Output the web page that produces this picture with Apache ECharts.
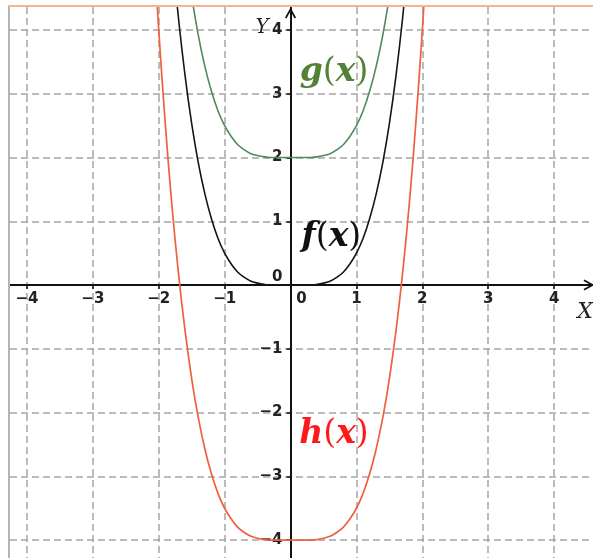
<!DOCTYPE html>
<html>
<head>
<meta charset="utf-8">
<script src="https://cdn.jsdelivr.net/npm/echarts@6/dist/echarts.min.js"></script>
<style>
  html, body { margin: 0; padding: 0; background: #ffffff; }
  #chart { width: 593px; height: 558px; }
</style>
</head>
<body>
<div id="chart"></div>
<script>
// Tick values on both axes
const xTicks = [-4, -3, -2, -1, 0, 1, 2, 3, 4];
const yTicks = [-4, -3, -2, -1, 0, 1, 2, 3, 4];

// f(x): sampled points
const fX = [-1.8, -1.7, -1.6, -1.5, -1.4, -1.3, -1.2, -1.1, -1.0, -0.9, -0.8, -0.7, -0.6, -0.5, -0.4, -0.3, -0.2, -0.1,
            0, 0.1, 0.2, 0.3, 0.4, 0.5, 0.6, 0.7, 0.8, 0.9, 1.0, 1.1, 1.2, 1.3, 1.4, 1.5, 1.6, 1.7, 1.8];
const fY = [5.25, 4.18, 3.28, 2.53, 1.92, 1.43, 1.04, 0.73, 0.5, 0.33, 0.2, 0.12, 0.06, 0.03, 0.01, 0, 0, 0,
            0, 0, 0, 0, 0.01, 0.03, 0.06, 0.12, 0.2, 0.33, 0.5, 0.73, 1.04, 1.43, 1.92, 2.53, 3.28, 4.18, 5.25];

// g(x): sampled points
const gX = [-1.6, -1.5, -1.4, -1.3, -1.2, -1.1, -1.0, -0.9, -0.8, -0.7, -0.6, -0.5, -0.4, -0.3, -0.2, -0.1,
            0, 0.1, 0.2, 0.3, 0.4, 0.5, 0.6, 0.7, 0.8, 0.9, 1.0, 1.1, 1.2, 1.3, 1.4, 1.5, 1.6];
const gY = [5.28, 4.53, 3.92, 3.43, 3.04, 2.73, 2.5, 2.33, 2.2, 2.12, 2.06, 2.03, 2.01, 2, 2, 2,
            2, 2, 2, 2, 2.01, 2.03, 2.06, 2.12, 2.2, 2.33, 2.5, 2.73, 3.04, 3.43, 3.92, 4.53, 5.28];

// h(x): sampled points
const hX = [-2.1, -2.0, -1.9, -1.8, -1.7, -1.6, -1.5, -1.4, -1.3, -1.2, -1.1, -1.0, -0.9, -0.8, -0.7, -0.6, -0.5, -0.4, -0.3, -0.2, -0.1,
            0, 0.1, 0.2, 0.3, 0.4, 0.5, 0.6, 0.7, 0.8, 0.9, 1.0, 1.1, 1.2, 1.3, 1.4, 1.5, 1.6, 1.7, 1.8, 1.9, 2.0, 2.1];
const hY = [5.72, 4, 2.52, 1.25, 0.18, -0.72, -1.47, -2.08, -2.57, -2.96, -3.27, -3.5, -3.67, -3.8, -3.88, -3.94, -3.97, -3.99, -4, -4, -4,
            -4, -4, -4, -4, -3.99, -3.97, -3.94, -3.88, -3.8, -3.67, -3.5, -3.27, -2.96, -2.57, -2.08, -1.47, -0.72, 0.18, 1.25, 2.52, 4, 5.72];

const zip = (xs, ys) => xs.map((x, i) => [x, ys[i]]);

const chevron = 'path://M0,11 L6,0 L12,11 L10.4,12 L6,4 L1.6,12 Z';

function tickText(v) {
  if (v === 0) return '{z|0}';
  return v < 0 ? '\u2212' + Math.abs(v) : String(v);
}

const labelFont = {
  fontFamily: 'DejaVu Sans',
  fontSize: 15,
  fontWeight: 'bold',
  color: '#222222'
};

const gridLine = { show: true, lineStyle: { type: [7, 4], color: '#a5a5a5', width: 1.5 } };

function axisLineStyle(endOffset) {
  return {
    onZero: false,
    lineStyle: { color: '#111111', width: 2 },
    symbol: ['none', chevron],
    symbolSize: [11, 11],
    symbolOffset: [0, endOffset]
  };
}

const chart = echarts.init(document.getElementById('chart'), null, { renderer: 'canvas' });

chart.setOption({
  animation: false,
  backgroundColor: '#ffffff',
  grid: { left: 10, right: 0, top: 7, bottom: 0, containLabel: false, outerBoundsMode: 'none' },
  xAxis: {
    type: 'value',
    position: 'bottom',
    min: -4.257,
    max: 4.59,
    axisLine: axisLineStyle(-4),
    axisTick: { show: true, customValues: xTicks, length: 4, lineStyle: { color: '#111111', width: 1.5 } },
    axisLabel: Object.assign({
      customValues: xTicks,
      margin: 7,
      formatter: tickText,
      rich: { z: Object.assign({ padding: [0, 0, 0, 22] }, labelFont) }
    }, labelFont),
    splitLine: gridLine
  },
  yAxis: {
    type: 'value',
    position: 'left',
    min: -4.28,
    max: 4.36,
    axisLine: axisLineStyle(-6),
    axisTick: { show: true, customValues: yTicks, length: 4, lineStyle: { color: '#111111', width: 1.5 } },
    axisLabel: Object.assign({
      customValues: yTicks,
      margin: 8,
      formatter: tickText,
      rich: { z: Object.assign({ padding: [0, 0, 16, 0] }, labelFont) }
    }, labelFont),
    splitLine: gridLine
  },
  series: [
    {
      name: 'h(x)', type: 'line', data: zip(hX, hY), showSymbol: false, smooth: 0.35,
      lineStyle: { color: '#f0603e', width: 1.7 }, z: 3
    },
    {
      name: 'f(x)', type: 'line', data: zip(fX, fY), showSymbol: false, smooth: 0.35,
      lineStyle: { color: '#151515', width: 1.6 }, z: 4
    },
    {
      name: 'g(x)', type: 'line', data: zip(gX, gY), showSymbol: false, smooth: 0.35,
      lineStyle: { color: '#4e8a5c', width: 1.6 }, z: 5
    }
  ]
});

// Move both axes so they cross at the origin
const origin = chart.convertToPixel({ gridIndex: 0 }, [0, 0]);
const gridRect = chart.getModel().getComponent('grid', 0).coordinateSystem.getRect();
chart.setOption({
  xAxis: { offset: -(gridRect.y + gridRect.height - origin[1]) },
  yAxis: { offset: -(origin[0] - gridRect.x) }
});

// Curve names, axis names and frame edges
function curveLabel(letter, color, at) {
  const p = chart.convertToPixel({ gridIndex: 0 }, at);
  return {
    type: 'text', x: p[0], y: p[1], z: 20,
    style: {
      text: '{i|' + letter + '}{p|(}{i|x}{p|)}',
      align: 'center', verticalAlign: 'middle',
      rich: {
        i: { fontFamily: 'DejaVu Serif', fontStyle: 'italic', fontWeight: 'bold', fontSize: 33, fill: color },
        p: { fontFamily: 'DejaVu Serif', fontWeight: 'normal', fontSize: 33, fill: color }
      }
    }
  };
}

const yName = chart.convertToPixel({ gridIndex: 0 }, [-0.43, 4.03]);
const xName = chart.convertToPixel({ gridIndex: 0 }, [4.47, -0.42]);

chart.setOption({
  graphic: [
    { type: 'line', shape: { x1: 8, y1: 6, x2: 593, y2: 6 }, style: { stroke: '#f6b48c', lineWidth: 2 }, z: 30 },
    { type: 'line', shape: { x1: 9, y1: 7, x2: 9, y2: 558 }, style: { stroke: '#b4b4b4', lineWidth: 2 }, z: 30 },
    curveLabel('g', '#538135', [0.66, 3.34]),
    curveLabel('f', '#111111', [0.62, 0.75]),
    curveLabel('h', '#ff1a1a', [0.66, -2.35]),
    {
      type: 'text', x: yName[0], y: yName[1], z: 20,
      style: { text: 'Y', fontFamily: 'DejaVu Serif', fontStyle: 'italic', fontSize: 20, fill: '#222222', align: 'center', verticalAlign: 'middle' }
    },
    {
      type: 'text', x: xName[0], y: xName[1], z: 20,
      style: { text: 'X', fontFamily: 'DejaVu Serif', fontStyle: 'italic', fontSize: 22, fill: '#222222', align: 'center', verticalAlign: 'middle' }
    }
  ]
});
</script>
</body>
</html>
